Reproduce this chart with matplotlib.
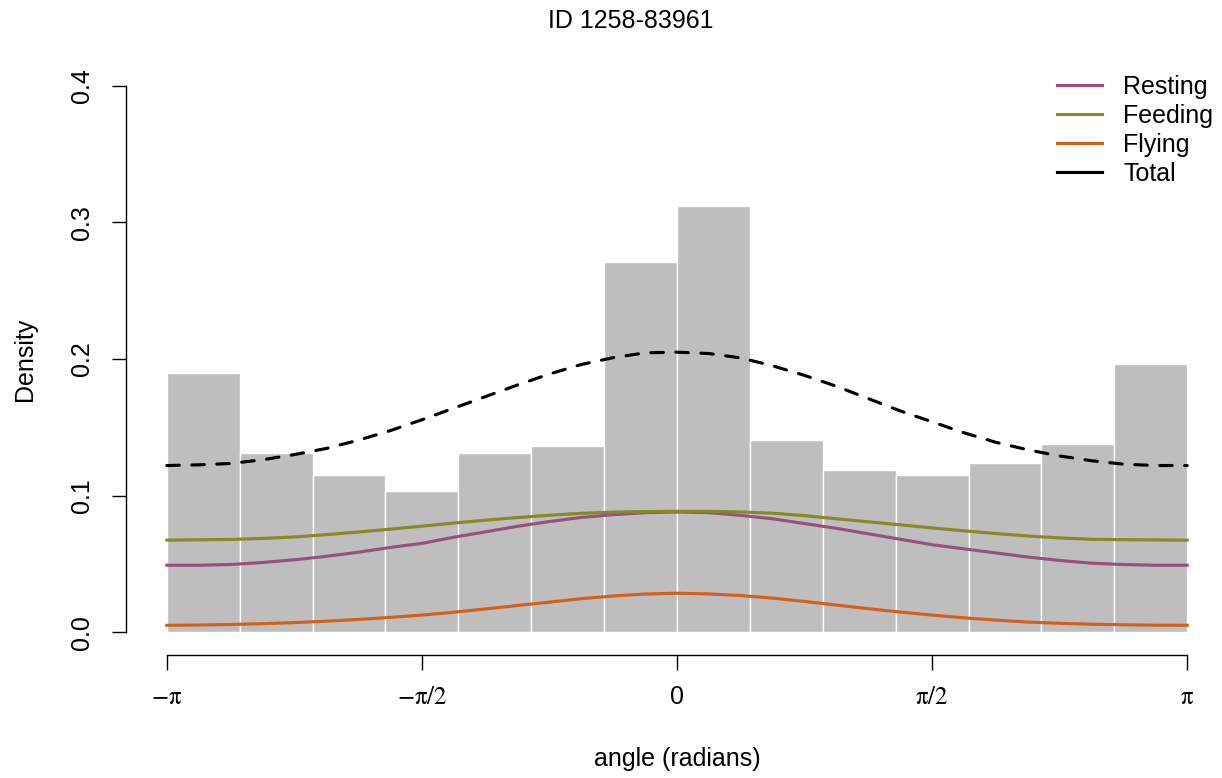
import numpy as np
import matplotlib
matplotlib.use('Agg')
import matplotlib.pyplot as plt

plt.rcParams['font.family'] = ['Liberation Sans', 'DejaVu Sans']
plt.rcParams['mathtext.fontset'] = 'stix'

# histogram of angles: 14 bins over [-pi, pi]
bin_heights = [0.190, 0.131, 0.115, 0.103, 0.131, 0.136, 0.271,
               0.312, 0.141, 0.119, 0.115, 0.124, 0.138, 0.196]

# fitted densities read at steps of pi/16 from -pi to pi
curve_steps = list(range(-16, 17))
resting = [0.049, 0.049, 0.0495, 0.051, 0.053, 0.0555, 0.0585, 0.062, 0.065,
           0.0695, 0.0735, 0.0775, 0.081, 0.084, 0.086, 0.0875, 0.088,
           0.0875, 0.0855, 0.083, 0.0795, 0.076, 0.072, 0.068, 0.064,
           0.061, 0.058, 0.055, 0.0525, 0.0505, 0.0495, 0.049, 0.049]
feeding = [0.0674, 0.0676, 0.0679, 0.0686, 0.0697, 0.0714, 0.0733, 0.0754,
           0.0776, 0.0799, 0.082, 0.0839, 0.0856, 0.087, 0.0879, 0.0883,
           0.0885, 0.0885, 0.088, 0.0871, 0.0853, 0.083, 0.0808, 0.0786,
           0.0763, 0.0742, 0.0722, 0.0704, 0.069, 0.068, 0.0677, 0.0675, 0.0674]
flying = [0.005, 0.0052, 0.0056, 0.0062, 0.007, 0.008, 0.0093, 0.0108, 0.0125,
          0.0146, 0.017, 0.0195, 0.022, 0.0245, 0.0265, 0.0279, 0.0285,
          0.028, 0.0268, 0.0249, 0.0225, 0.0198, 0.0172, 0.0147, 0.0125,
          0.0105, 0.0088, 0.0074, 0.0065, 0.0058, 0.0054, 0.0051, 0.005]
total = [0.122, 0.1225, 0.1235, 0.1262, 0.130, 0.1345, 0.1405, 0.1475, 0.1555,
         0.164, 0.1725, 0.181, 0.189, 0.196, 0.201, 0.2045, 0.205,
         0.204, 0.2008, 0.195, 0.188, 0.180, 0.171, 0.162, 0.154,
         0.146, 0.139, 0.1335, 0.129, 0.1255, 0.123, 0.122, 0.122]

labels = ['Resting', 'Feeding', 'Flying', 'Total']
colors = ['#9B4F7D', '#858A25', '#D2601A', 'black']

W, H = 1222, 778
fig = plt.figure(figsize=(W / 100, H / 100), dpi=100)
ax = fig.add_axes([126 / W, (H - 654) / H, (1228 - 126) / W, (654 - 64) / H])

edges = np.linspace(-np.pi, np.pi, len(bin_heights) + 1)
ax.bar(edges[:-1], bin_heights, width=edges[1] - edges[0], align='edge',
       color='#BEBEBE', edgecolor='white', linewidth=1.0)

x = np.array(curve_steps) * np.pi / 16
for vals, lab, col in zip([resting, feeding, flying], labels[:3], colors[:3]):
    ax.plot(x, vals, color=col, lw=2.25, label=lab)
ax.plot(x, total, color='black', lw=2.25, dashes=(4, 4),
        dash_capstyle='round')
ax.plot([], [], color='black', lw=2.25, label='Total')

ax.set_xlim(-1.08 * np.pi, 1.08 * np.pi)
ax.set_ylim(-0.016, 0.416)

for s in ['top', 'right']:
    ax.spines[s].set_visible(False)
ax.spines['left'].set_bounds(0, 0.4)
ax.spines['bottom'].set_bounds(-np.pi, np.pi)
ax.spines['bottom'].set_position(('outward', 1))
ax.spines['left'].set_linewidth(1.0)
ax.spines['bottom'].set_linewidth(1.0)

ax.set_yticks([0, 0.1, 0.2, 0.3, 0.4])
ax.set_yticklabels(['0.0', '0.1', '0.2', '0.3', '0.4'], rotation=90, va='center')
ax.set_xticks([-np.pi, -np.pi / 2, 0, np.pi / 2, np.pi])
ax.set_xticklabels([r'$-\mathrm{\pi}$', r'$-\mathrm{\pi}/2$', '0',
                    r'$\mathrm{\pi}/2$', r'$\mathrm{\pi}$'])
ax.tick_params(axis='y', length=10, width=1, labelsize=18, pad=13)
ax.tick_params(axis='x', length=10.5, width=1, labelsize=18, pad=11)

fig.text(25 / W, 1 - 359 / H, 'Density', rotation=90, ha='center', va='center', fontsize=18)
fig.text(677 / W, 1 - 759 / H, 'angle (radians)', ha='center', va='center', fontsize=18)
fig.text(631 / W, 1 - 21 / H, 'ID 1258-83961', ha='center', va='center', fontsize=18)

ax.legend(loc='upper left', bbox_to_anchor=(1057 / W, 1 - 75 / H),
          bbox_transform=fig.transFigure, frameon=False, fontsize=18,
          borderpad=0, borderaxespad=0, handlelength=1.8, handletextpad=0.84,
          labelspacing=0.2)

fig.savefig('out.png', dpi=100)
